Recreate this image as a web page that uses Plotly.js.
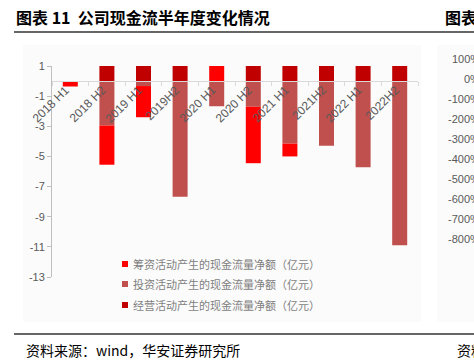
<!DOCTYPE html>
<html>
<head>
<meta charset="utf-8">
<script src="https://cdn.plot.ly/plotly-3.0.1.min.js"></script>
<style>
html,body{margin:0;padding:0;background:#fff;}
#chart{width:474px;height:364px;}
</style>
</head>
<body>
<div id="chart"></div>
<script>
// ---- data ----
var categories = ["2018 H1","2018 H2","2019 H1","2019H2","2020 H1","2020 H2","2021 H1","2021H2","2022 H1","2022H2"];
var investing = [-0.03, -2.95, -0.33, -7.67, -1.67, -1.70, -4.15, -4.29, -5.71, -10.89];
var financing = [-0.33, -2.60, -2.07, 0, 1.50, -3.75, -0.85, 0, 0, 0];
var operating = [0, 5.6, 2.7, 7.9, 0.3, 5.6, 5.2, 4.5, 5.9, 11.0];
var seriesNames = ["筹资活动产生的现金流量净额（亿元）","投资活动产生的现金流量净额（亿元）","经营活动产生的现金流量净额（亿元）"];
var seriesColors = ["#FF0000","#C0504D","#C00000"];
var yTickVals = [1, -1, -3, -5, -7, -9, -11, -13];
var sidePctLabels = ["100%","0%","-100%","-200%","-300%","-400%","-500%","-600%","-700%","-800%"];

var W = 474, H = 364;
function px(x){return x/W;}
function py(y){return 1 - y/H;}

var yMin = -13, yMax = 1;
var domTop = py(66), domBot = py(277);
var zeroPos = domBot + (0 - yMin)/(yMax - yMin)*(domTop - domBot);
var catRange = [-0.5, categories.length - 0.5];

var traces = [
  {type:"bar", name:seriesNames[1], x:categories, y:investing, marker:{color:seriesColors[1]}},
  {type:"bar", name:seriesNames[0], x:categories, y:financing, marker:{color:seriesColors[0]}},
  {type:"bar", name:seriesNames[2], x:categories, y:operating, marker:{color:seriesColors[2]}}
];

var annotations = [
  {text:"<b>图表 11  公司现金流半年度变化情况</b>", xref:"paper", yref:"paper", x:px(14), y:py(17), xanchor:"left", yanchor:"middle", showarrow:false, font:{family:"Noto Sans CJK SC", size:16, color:"#000"}},
  {text:"<b>图表 12</b>", xref:"paper", yref:"paper", x:px(443), y:py(17), xanchor:"left", yanchor:"middle", showarrow:false, font:{family:"Noto Sans CJK SC", size:16, color:"#000"}},
  {text:"资料来源：wind，华安证券研究所", xref:"paper", yref:"paper", x:px(24), y:py(350), xanchor:"left", yanchor:"middle", showarrow:false, font:{family:"Noto Sans CJK SC", size:14, color:"#000"}},
  {text:"资料来源：wind", xref:"paper", yref:"paper", x:px(455), y:py(350), xanchor:"left", yanchor:"middle", showarrow:false, font:{family:"Noto Sans CJK SC", size:14, color:"#000"}}
];
for (var i=0;i<sidePctLabels.length;i++){
  annotations.push({text:sidePctLabels[i], xref:"paper", yref:"paper", x:px(482), y:py(59 + i*19.98), xanchor:"right", yanchor:"middle", showarrow:false, font:{family:"Liberation Sans", size:11, color:"#595959"}});
}
// category labels sitting on the zero line, slanted like the source
for (var c=0;c<categories.length;c++){
  annotations.push({text:categories[c], xref:"x", yref:"y", x:categories[c], y:0, xanchor:"right", yanchor:"top", textangle:-45, xshift:5, yshift:1, showarrow:false, font:{family:"Liberation Sans", size:12, color:"#595959"}});
}

var shapes = [
  {type:"rect", xref:"paper", yref:"paper", x0:px(23), x1:px(421), y0:py(322), y1:py(45), fillcolor:"#fbfbfb", line:{width:0}, layer:"below"},
  {type:"rect", xref:"paper", yref:"paper", x0:px(437), x1:px(476), y0:py(322), y1:py(45), fillcolor:"#fbfbfb", line:{width:0}, layer:"below"},
  {type:"line", xref:"paper", yref:"paper", x0:px(14), x1:px(474), y0:py(32), y1:py(32), line:{color:"#333333", width:1.5}},
  {type:"line", xref:"paper", yref:"paper", x0:px(14), x1:px(474), y0:py(334), y1:py(334), line:{color:"#333333", width:1.5}}
];

// legend (small squares + text, as in the source)
var legendRows = [264, 284, 305];
for (var k=0;k<seriesNames.length;k++){
  var cy = legendRows[k];
  shapes.push({type:"rect", xref:"paper", yref:"paper", x0:px(122), x1:px(128), y0:py(cy+3), y1:py(cy-3), fillcolor:seriesColors[k], line:{width:0}});
  annotations.push({text:seriesNames[k], xref:"paper", yref:"paper", x:px(131), y:py(cy), xanchor:"left", yanchor:"middle", showarrow:false, font:{family:"Noto Sans CJK SC", size:11, color:"#7f7f7f"}});
}

var layout = {
  width:W, height:H,
  margin:{l:0,r:0,t:0,b:0},
  paper_bgcolor:"#ffffff",
  plot_bgcolor:"rgba(0,0,0,0)",
  barmode:"relative",
  bargap:0.59,
  showlegend:false,
  xaxis:{
    type:"category", categoryorder:"array", categoryarray:categories, range:catRange,
    domain:[px(52), px(418)], anchor:"free", position:zeroPos,
    showline:true, linecolor:"#d9d9d9", linewidth:1,
    ticks:"outside", tickson:"boundaries", ticklen:4, tickcolor:"#d9d9d9",
    showticklabels:false,
    showgrid:false, zeroline:false, fixedrange:true
  },
  yaxis:{
    domain:[domBot, domTop], range:[yMin, yMax],
    tickmode:"array", tickvals:yTickVals, ticktext:yTickVals.map(String),
    showline:true, linecolor:"#bfbfbf", linewidth:1,
    ticks:"outside", ticklen:4, tickcolor:"#bfbfbf",
    tickfont:{family:"Liberation Sans", size:11, color:"#595959"},
    showgrid:false, zeroline:false, fixedrange:true
  },
  shapes:shapes,
  annotations:annotations
};

Plotly.newPlot("chart", traces, layout, {displayModeBar:false, staticPlot:true});
</script>
</body>
</html>
